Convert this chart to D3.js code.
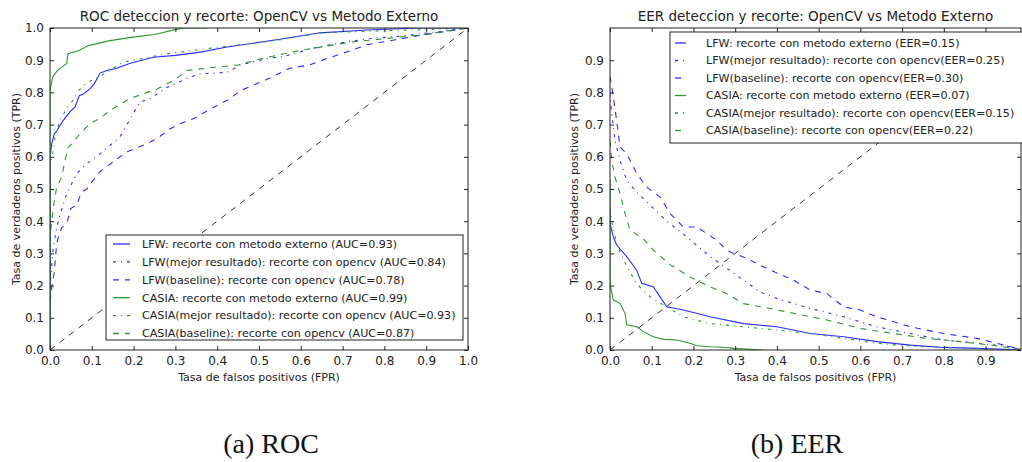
<!DOCTYPE html>
<html>
<head>
<meta charset="utf-8">
<script src="https://cdn.jsdelivr.net/npm/d3@7"></script>
<style>
  body { margin: 0; background: #fff; }
  svg text { font-family: "DejaVu Sans", sans-serif; fill: #222; }
  .caption { font-family: "Liberation Serif", "DejaVu Serif", serif; fill: #111; }
</style>
</head>
<body>
<svg id="chart" width="1022" height="462"></svg>
<script>
// ROC curves: [fpr, tpr]
var rocLfwExt = [[0,0],[0,0.6],[0.004,0.64],[0.01,0.67],[0.016,0.68],[0.03,0.71],[0.048,0.74],[0.06,0.755],[0.07,0.79],[0.08,0.795],[0.095,0.81],[0.105,0.825],[0.12,0.86],[0.136,0.868],[0.16,0.875],[0.19,0.89],[0.22,0.9],[0.247,0.909],[0.3,0.915],[0.36,0.925],[0.42,0.94],[0.478,0.951],[0.55,0.965],[0.646,0.985],[0.758,0.994],[0.88,1],[1,1]];
var rocLfwBest = [[0,0],[0,0.2],[0.004,0.26],[0.008,0.32],[0.016,0.38],[0.024,0.42],[0.04,0.486],[0.064,0.548],[0.088,0.579],[0.12,0.61],[0.144,0.636],[0.167,0.661],[0.19,0.713],[0.215,0.77],[0.239,0.78],[0.279,0.815],[0.33,0.845],[0.36,0.858],[0.423,0.862],[0.455,0.885],[0.518,0.905],[0.56,0.912],[0.638,0.94],[0.7,0.955],[0.758,0.966],[0.84,0.975],[0.92,0.987],[1,1]];
var rocLfwBase = [[0,0],[0,0.15],[0.005,0.2],[0.01,0.24],[0.016,0.33],[0.02,0.35],[0.028,0.38],[0.04,0.393],[0.05,0.44],[0.064,0.45],[0.075,0.49],[0.088,0.5],[0.105,0.53],[0.12,0.555],[0.151,0.584],[0.183,0.615],[0.231,0.64],[0.26,0.66],[0.285,0.685],[0.311,0.703],[0.344,0.719],[0.392,0.754],[0.43,0.78],[0.455,0.805],[0.518,0.84],[0.574,0.875],[0.62,0.885],[0.662,0.905],[0.72,0.93],[0.758,0.948],[0.82,0.962],[0.877,0.975],[0.94,0.988],[1,1]];
var rocCasiaExt = [[0,0],[0,0.806],[0.007,0.85],[0.019,0.87],[0.03,0.88],[0.04,0.89],[0.043,0.92],[0.07,0.93],[0.09,0.945],[0.108,0.95],[0.14,0.96],[0.19,0.97],[0.25,0.98],[0.3,0.995],[0.32,1],[0.375,1]];
var rocCasiaBest = [[0,0],[0,0.57],[0.005,0.6],[0.012,0.66],[0.024,0.713],[0.04,0.75],[0.055,0.775],[0.064,0.8],[0.088,0.83],[0.12,0.85],[0.175,0.894],[0.22,0.905],[0.28,0.92],[0.4,0.94],[0.478,0.951],[0.56,0.965],[0.646,0.985],[0.758,0.99],[0.9,0.995],[1,1]];
var rocCasiaBase = [[0,0],[0,0.35],[0.008,0.444],[0.016,0.506],[0.028,0.537],[0.036,0.589],[0.044,0.63],[0.052,0.64],[0.072,0.672],[0.096,0.703],[0.12,0.72],[0.144,0.744],[0.183,0.775],[0.2,0.785],[0.255,0.81],[0.3,0.84],[0.327,0.868],[0.399,0.879],[0.45,0.885],[0.502,0.904],[0.598,0.93],[0.718,0.956],[0.877,0.977],[1,1]];

// EER curves: [fpr, fnr]
var eerLfwExt = [[0,0.44],[0,0.393],[0.008,0.351],[0.016,0.326],[0.04,0.29],[0.064,0.248],[0.076,0.207],[0.104,0.196],[0.12,0.165],[0.136,0.134],[0.176,0.124],[0.24,0.103],[0.32,0.082],[0.4,0.072],[0.48,0.051],[0.56,0.041],[0.64,0.026],[0.72,0.015],[0.8,0.008],[0.88,0.005],[0.985,0]];
var eerLfwBest = [[0,0.8],[0.004,0.734],[0.012,0.651],[0.024,0.589],[0.04,0.527],[0.064,0.49],[0.096,0.45],[0.136,0.4],[0.176,0.36],[0.24,0.29],[0.32,0.217],[0.36,0.18],[0.4,0.16],[0.48,0.129],[0.56,0.103],[0.64,0.072],[0.72,0.051],[0.8,0.031],[0.88,0.021],[0.96,0.01],[0.985,0]];
var eerLfwBase = [[0,0.85],[0.008,0.786],[0.016,0.713],[0.024,0.63],[0.04,0.61],[0.064,0.548],[0.088,0.506],[0.12,0.475],[0.144,0.424],[0.176,0.382],[0.208,0.382],[0.256,0.341],[0.272,0.32],[0.288,0.304],[0.32,0.289],[0.384,0.248],[0.44,0.217],[0.48,0.186],[0.52,0.175],[0.56,0.134],[0.6,0.124],[0.64,0.103],[0.72,0.072],[0.8,0.051],[0.88,0.036],[0.96,0.01],[0.985,0]];
var eerCasiaExt = [[0,0.53],[0,0.207],[0.008,0.155],[0.024,0.145],[0.036,0.114],[0.04,0.078],[0.064,0.072],[0.08,0.057],[0.104,0.041],[0.128,0.033],[0.16,0.031],[0.192,0.021],[0.208,0.013],[0.24,0.01],[0.28,0.008],[0.296,0.005],[0.368,0]];
var eerCasiaBest = [[0,0.44],[0.004,0.4],[0.016,0.33],[0.04,0.26],[0.064,0.205],[0.096,0.165],[0.136,0.134],[0.176,0.103],[0.24,0.082],[0.32,0.072],[0.4,0.062],[0.48,0.051],[0.56,0.036],[0.64,0.021],[0.72,0.012],[0.8,0.008],[0.92,0.003],[0.985,0]];
var eerCasiaBase = [[0,0.65],[0.004,0.589],[0.012,0.537],[0.024,0.486],[0.036,0.424],[0.048,0.372],[0.08,0.345],[0.104,0.31],[0.144,0.265],[0.192,0.227],[0.24,0.196],[0.28,0.175],[0.32,0.144],[0.384,0.129],[0.44,0.114],[0.52,0.093],[0.6,0.067],[0.68,0.051],[0.76,0.036],[0.84,0.026],[0.92,0.014],[0.985,0.002]];

var rocLabels = ["LFW: recorte con metodo externo (AUC=0.93)",
  "LFW(mejor resultado): recorte con opencv (AUC=0.84)",
  "LFW(baseline): recorte con opencv (AUC=0.78)",
  "CASIA: recorte con metodo externo (AUC=0.99)",
  "CASIA(mejor resultado): recorte con opencv (AUC=0.93)",
  "CASIA(baseline): recorte con opencv (AUC=0.87)"];
var eerLabels = ["LFW: recorte con metodo externo (EER=0.15)",
  "LFW(mejor resultado): recorte con opencv(EER=0.25)",
  "LFW(baseline): recorte con opencv(EER=0.30)",
  "CASIA: recorte con metodo externo (EER=0.07)",
  "CASIA(mejor resultado): recorte con opencv(EER=0.15)",
  "CASIA(baseline): recorte con opencv(EER=0.22)"];

var rocTicksX = [0,0.1,0.2,0.3,0.4,0.5,0.6,0.7,0.8,0.9,1.0];
var rocTicksY = [0,0.1,0.2,0.3,0.4,0.5,0.6,0.7,0.8,0.9,1.0];
var eerTicks = [0,0.1,0.2,0.3,0.4,0.5,0.6,0.7,0.8,0.9];

var blue = "#2b2bff", green = "#2f962f";
var styles = [
  {color: blue, dash: null},
  {color: blue, dash: "3,5,1,5"},
  {color: blue, dash: "6,6"},
  {color: green, dash: null},
  {color: green, dash: "3,5,1,5"},
  {color: green, dash: "6,6"}
];

var svg = d3.select("#chart");

function drawPanel(cfg) {
  var x = d3.scaleLinear().domain(cfg.xDomain).range([cfg.left, cfg.right]);
  var y = d3.scaleLinear().domain(cfg.yDomain).range([cfg.bottom, cfg.top]);
  var g = svg.append("g");

  g.append("defs").append("clipPath").attr("id", cfg.id + "clip")
    .append("rect").attr("x", cfg.left).attr("y", cfg.top)
    .attr("width", cfg.right - cfg.left).attr("height", cfg.bottom - cfg.top);

  var plot = g.append("g").attr("clip-path", "url(#" + cfg.id + "clip)");

  // chance diagonal
  plot.append("line")
    .attr("x1", x(0)).attr("y1", y(0))
    .attr("x2", x(1)).attr("y2", y(1))
    .attr("stroke", "#333").attr("stroke-width", 1)
    .attr("stroke-dasharray", "6,6");

  var line = d3.line().x(function(d) { return x(d[0]); }).y(function(d) { return y(d[1]); });

  cfg.series.forEach(function(s, i) {
    plot.append("path")
      .datum(s)
      .attr("d", line)
      .attr("fill", "none")
      .attr("stroke", styles[i].color)
      .attr("stroke-width", 1.1)
      .attr("stroke-dasharray", styles[i].dash);
  });

  // axes, ticks inward on all sides
  var ax = g.append("g").attr("transform", "translate(0," + cfg.bottom + ")")
    .call(d3.axisBottom(x).tickValues(cfg.xTicks).tickSizeInner(-4).tickSizeOuter(0).tickPadding(6).tickFormat(d3.format(".1f")));
  var axTop = g.append("g").attr("transform", "translate(0," + cfg.top + ")")
    .call(d3.axisTop(x).tickValues(cfg.xTicks).tickSizeInner(-4).tickSizeOuter(0).tickFormat(""));
  var ay = g.append("g").attr("transform", "translate(" + cfg.left + ",0)")
    .call(d3.axisLeft(y).tickValues(cfg.yTicks).tickSizeInner(-4).tickSizeOuter(0).tickPadding(6).tickFormat(d3.format(".1f")));
  var ayR = g.append("g").attr("transform", "translate(" + cfg.right + ",0)")
    .call(d3.axisRight(y).tickValues(cfg.yTicks).tickSizeInner(-4).tickSizeOuter(0).tickFormat(""));

  [ax, axTop, ay, ayR].forEach(function(a) {
    a.select(".domain").remove();
    a.selectAll("line").attr("stroke", "#222");
    a.selectAll("text").style("font-size", "12px").attr("fill", "#222");
  });
  ax.selectAll("text").attr("dy", "0.71em");

  g.append("rect")
    .attr("x", cfg.left).attr("y", cfg.top)
    .attr("width", cfg.right - cfg.left).attr("height", cfg.bottom - cfg.top)
    .attr("fill", "none").attr("stroke", "#222").attr("stroke-width", 1);

  // title and axis labels
  g.append("text")
    .attr("x", (cfg.left + cfg.titleRight) / 2).attr("y", cfg.top - 7)
    .attr("text-anchor", "middle").style("font-size", "13.5px")
    .text(cfg.title);
  g.append("text")
    .attr("x", (cfg.left + cfg.titleRight) / 2).attr("y", cfg.bottom + 31)
    .attr("text-anchor", "middle").style("font-size", "11px")
    .text("Tasa de falsos positivos (FPR)");
  g.append("text")
    .attr("transform", "translate(" + cfg.ylabelX + "," + ((cfg.top + cfg.bottom) / 2) + ") rotate(-90)")
    .attr("text-anchor", "middle").style("font-size", "11px")
    .text("Tasa de verdaderos positivos (TPR)");

  // legend
  var lg = g.append("g");
  lg.append("rect")
    .attr("x", cfg.legend.x).attr("y", cfg.legend.y)
    .attr("width", cfg.legend.w).attr("height", cfg.legend.h)
    .attr("fill", "#fff").attr("stroke", "#222").attr("stroke-width", 1);
  cfg.labels.forEach(function(lab, i) {
    var ly = cfg.legend.y + cfg.legend.first + i * cfg.legend.step;
    lg.append("line")
      .attr("x1", cfg.legend.x + cfg.legend.s0).attr("x2", cfg.legend.x + cfg.legend.s1)
      .attr("y1", ly).attr("y2", ly)
      .attr("stroke", styles[i].color).attr("stroke-width", 1.3)
      .attr("stroke-dasharray", styles[i].dash);
    lg.append("text")
      .attr("x", cfg.legend.x + cfg.legend.tx).attr("y", ly)
      .attr("dy", "0.35em").style("font-size", "11.1px")
      .text(lab);
  });

  svg.append("text").attr("class", "caption")
    .attr("x", cfg.captionX).attr("y", 453)
    .attr("text-anchor", "middle").style("font-size", "28px")
    .text(cfg.caption);
}

drawPanel({
  id: "roc", left: 50, right: 468, top: 28, bottom: 350,
  titleRight: 468, xDomain: [0, 1], yDomain: [0, 1],
  xTicks: rocTicksX, yTicks: rocTicksY,
  series: [rocLfwExt, rocLfwBest, rocLfwBase, rocCasiaExt, rocCasiaBest, rocCasiaBase],
  labels: rocLabels,
  title: "ROC deteccion y recorte: OpenCV vs Metodo Externo",
  ylabelX: 20,
  legend: {x: 106, y: 235, w: 357, h: 105, first: 9, step: 17.9, s0: 7, s1: 24, tx: 36},
  caption: "(a) ROC", captionX: 271
});

drawPanel({
  id: "eer", left: 610, right: 1021, top: 28, bottom: 350,
  titleRight: 1021, xDomain: [0, 0.985], yDomain: [0, 1],
  xTicks: eerTicks, yTicks: eerTicks,
  series: [eerLfwExt, eerLfwBest, eerLfwBase, eerCasiaExt, eerCasiaBest, eerCasiaBase],
  labels: eerLabels,
  title: "EER deteccion y recorte: OpenCV vs Metodo Externo",
  ylabelX: 578,
  legend: {x: 670, y: 32, w: 360, h: 111, first: 11, step: 17.5, s0: 5, s1: 16, tx: 36},
  caption: "(b) EER", captionX: 797
});
</script>
</body>
</html>
